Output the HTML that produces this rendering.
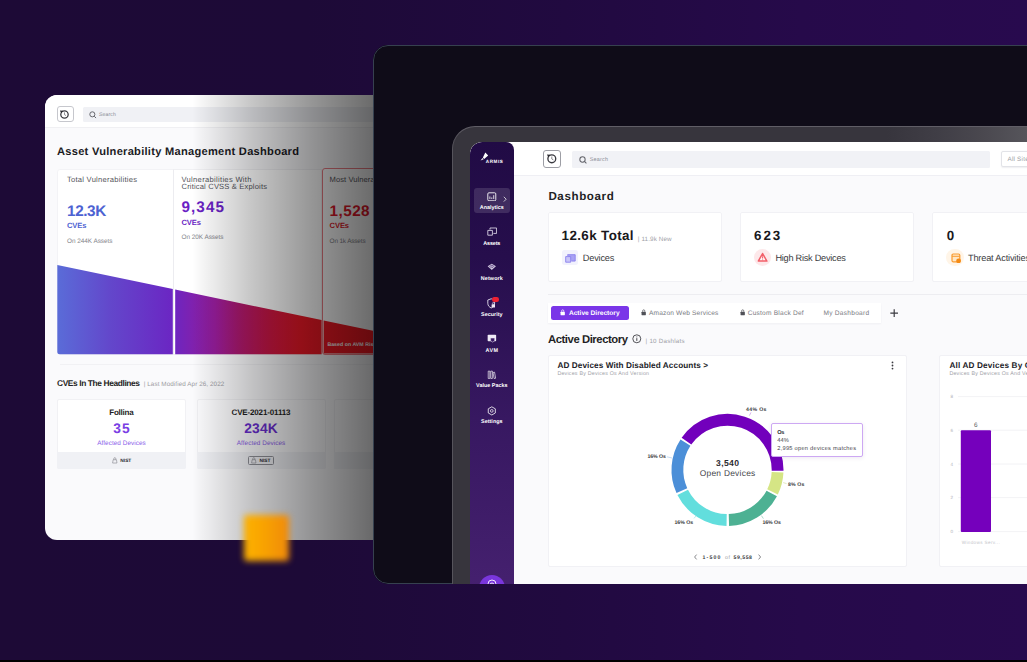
<!DOCTYPE html>
<html lang="en">
<head>
<meta charset="utf-8">
<title>Armis Dashboard</title>
<style>
html,body{margin:0;padding:0;}
html{background:#1d0a36;}
body{width:1027px;height:662px;overflow:hidden;position:relative;font-family:'Liberation Sans',sans-serif;
 background:linear-gradient(90deg,#1d0a36 0%,#1d0a37 30%,#210a40 55%,#260a4a 78%,#280a4e 100%);}
div,svg{position:absolute;box-sizing:border-box;}
.t{white-space:pre;line-height:1;text-rendering:geometricPrecision;}
.pg{left:0;top:0;width:1027px;height:662px;}
</style>
</head>
<body>

<!-- ============ LEFT CARD ============ -->
<div id="lc" style="left:44.7px;top:94.9px;width:380px;height:445.6px;border-radius:12px 0 0 12px;overflow:hidden;background:#fafafc;">
<div class="pg" style="left:-44.7px;top:-94.9px;">
  <!-- header -->
  <div style="left:44px;top:94px;width:400px;height:34.2px;background:#fff;border-bottom:1px solid #f0f0f3;"></div>
  <div style="left:56.5px;top:105.6px;width:17.1px;height:16.8px;border:1px solid #c6c7cd;border-radius:3px;background:#fff;"></div>
  <svg style="left:59.3px;top:108.5px;" width="10.4" height="10.4" viewBox="0 0 18 18"><circle cx="9.5" cy="9.5" r="6.4" fill="none" stroke="#3a3a40" stroke-width="2.2"/><path d="M9.5 5.8v4l2.6 1.6" fill="none" stroke="#6a6a70" stroke-width="1.3"/><path d="M1.5 2.5l5.5 0.5-3 4.5z" fill="#2a2a30"/></svg>
  <div style="left:82.6px;top:106.5px;width:330px;height:15.2px;background:#f0f1f5;border-radius:1.5px;"></div>
  <svg style="left:89.1px;top:110.5px;" width="8" height="8" viewBox="0 0 12 12"><circle cx="5" cy="5" r="3.8" fill="none" stroke="#63646a" stroke-width="1.45"/><path d="M7.8 7.8l2.8 2.8" stroke="#63646a" stroke-width="1.45"/></svg>

  <!-- stat cards -->
  <div style="left:57.3px;top:168.7px;width:116.5px;height:186px;background:#fff;border:1px solid #f3f3f6;border-radius:3px 0 0 3px;"></div>
  <div style="left:173.3px;top:168.7px;width:148.6px;height:186px;background:#fff;border:1px solid #f0f0f3;border-left:1px solid #ececf0;"></div>
  <div style="left:322.4px;top:168.4px;width:110px;height:186.2px;background:#fff;border:1px solid #ee7d85;border-radius:3px;"></div>

  <!-- gradient wedge -->
  <svg style="left:0;top:0;" width="1027" height="662" viewBox="0 0 1027 662">
    <defs>
      <linearGradient id="wg" gradientUnits="userSpaceOnUse" x1="57.3" y1="0" x2="380" y2="0">
        <stop offset="0" stop-color="#5a6cd8"/>
        <stop offset="0.164" stop-color="#6347cb"/>
        <stop offset="0.356" stop-color="#6b26c3"/>
        <stop offset="0.49" stop-color="#951c98"/>
        <stop offset="0.567" stop-color="#ac186c"/>
        <stop offset="0.666" stop-color="#cf1641"/>
        <stop offset="0.753" stop-color="#ec1826"/>
        <stop offset="1" stop-color="#f51820"/>
      </linearGradient>
    </defs>
    <path d="M57.3 265 L172.8 289.06 L172.8 354.3 L59.8 354.3 Q57.3 354.3 57.3 351.8 Z" fill="url(#wg)"/>
    <path d="M175.2 289.56 L321.6 320.05 L321.6 354.3 L175.2 354.3 Z" fill="url(#wg)"/>
    <path d="M323.6 320.47 L420 340.5 L420 353.6 L323.6 353.6 Z" fill="url(#wg)"/>
  </svg>

  <!-- separator -->
  <div style="left:60px;top:364px;width:380px;height:1px;background:#f1f1f4;"></div>

  <!-- headline cards -->
  <div style="left:57.3px;top:398.8px;width:128.5px;height:70.4px;background:#fff;border:1px solid #f1f1f4;border-radius:2px;"></div>
  <div style="left:57.3px;top:451.9px;width:128.5px;height:17.3px;background:#f0f1f5;border-radius:0 0 2px 2px;"></div>
  <div style="left:196.6px;top:398.8px;width:129px;height:70.4px;background:#fbfbfd;border:1px solid #f0f0f3;border-radius:2px;"></div>
  <div style="left:196.6px;top:451.9px;width:129px;height:17.3px;background:#f0f1f5;border-radius:0 0 2px 2px;"></div>
  <div style="left:334px;top:398.8px;width:129px;height:70.4px;background:#fbfbfd;border:1px solid #f0f0f3;border-radius:2px;"></div>
  <div style="left:334px;top:451.9px;width:129px;height:17.3px;background:#f0f1f5;"></div>
  <!-- NIST icons -->
  <svg style="left:112px;top:457.4px;" width="5.6" height="6.6" viewBox="0 0 10 12"><path d="M2 5h6l1 6H1z" fill="none" stroke="#7a7b82" stroke-width="1"/><path d="M3.2 5V3a1.8 1.8 0 0 1 3.6 0v2" fill="none" stroke="#7a7b82" stroke-width="1"/></svg>
  <div style="left:247.6px;top:456.2px;width:26.6px;height:9.2px;border:0.8px solid #8e8f96;border-radius:1.5px;"></div>
  <svg style="left:251.2px;top:457.4px;" width="5.6" height="6.6" viewBox="0 0 10 12"><path d="M2 5h6l1 6H1z" fill="none" stroke="#7a7b82" stroke-width="1"/><path d="M3.2 5V3a1.8 1.8 0 0 1 3.6 0v2" fill="none" stroke="#7a7b82" stroke-width="1"/></svg>

<div class="t" style="left:99.10px;top:113.05px;font-size:5.2px;color:#8a8d96;letter-spacing:0.052px;">Search</div>
<div class="t" style="left:57.00px;top:147.11px;font-size:11.1px;font-weight:700;color:#1b1b1f;letter-spacing:0.272px;">Asset Vulnerability Management Dashboard</div>
<div class="t" style="left:67.00px;top:175.59px;font-size:7.6px;color:#55565c;letter-spacing:0.242px;">Total Vulnerabilities</div>
<div class="t" style="left:67.00px;top:204.07px;font-size:15.3px;font-weight:700;color:#4d62d2;letter-spacing:-0.382px;">12.3K</div>
<div class="t" style="left:67.00px;top:221.69px;font-size:7.6px;font-weight:700;color:#4d62d2;letter-spacing:-0.115px;">CVEs</div>
<div class="t" style="left:67.00px;top:238.95px;font-size:6.4px;color:#85868c;letter-spacing:-0.025px;">On 244K Assets</div>
<div class="t" style="left:181.50px;top:175.88px;font-size:7.6px;color:#55565c;letter-spacing:0.300px;">Vulnerabilities With</div>
<div class="t" style="left:181.50px;top:182.89px;font-size:7.6px;color:#55565c;letter-spacing:0.158px;">Critical CVSS &amp; Exploits</div>
<div class="t" style="left:181.50px;top:199.73px;font-size:15.3px;font-weight:700;color:#6a1fc4;letter-spacing:1.055px;">9,345</div>
<div class="t" style="left:181.50px;top:218.94px;font-size:7.6px;font-weight:700;color:#6a1fc4;letter-spacing:-0.115px;">CVEs</div>
<div class="t" style="left:181.50px;top:235.31px;font-size:6.4px;color:#85868c;letter-spacing:-0.023px;">On 20K Assets</div>
<div class="t" style="left:329.60px;top:175.88px;font-size:7.6px;color:#55565c;letter-spacing:0.044px;">Most Vulnerable Assets</div>
<div class="t" style="left:329.60px;top:203.57px;font-size:15.3px;font-weight:700;color:#e0182a;letter-spacing:0.430px;">1,528</div>
<div class="t" style="left:329.60px;top:221.79px;font-size:7.6px;font-weight:700;color:#e0182a;letter-spacing:-0.115px;">CVEs</div>
<div class="t" style="left:329.60px;top:238.71px;font-size:6.4px;color:#85868c;letter-spacing:-0.151px;">On 1k Assets</div>
<div class="t" style="left:327.40px;top:342.87px;font-size:5.2px;font-weight:700;color:#ffffff;letter-spacing:0.045px;">Based on AVM Risk Score</div>
<div class="t" style="left:57.00px;top:378.90px;font-size:8.4px;font-weight:700;color:#1f1f24;letter-spacing:-0.388px;">CVEs In The Headlines</div>
<div class="t" style="left:143.70px;top:381.65px;font-size:6.3px;color:#9a9ba1;letter-spacing:0.085px;">| Last Modified Apr 26, 2022</div>
<div class="t" style="left:109.25px;top:409.26px;font-size:8px;font-weight:700;color:#1f1f24;letter-spacing:-0.214px;">Follina</div>
<div class="t" style="left:113.25px;top:421.56px;font-size:13.8px;font-weight:700;color:#7a3fe4;letter-spacing:1.141px;">35</div>
<div class="t" style="left:97.25px;top:441.11px;font-size:6.4px;color:#8b62ea;letter-spacing:0.044px;">Affected Devices</div>
<div class="t" style="left:120.30px;top:460.39px;font-size:4.8px;font-weight:700;color:#2a2a30;letter-spacing:0.021px;">NIST</div>
<div class="t" style="left:231.50px;top:409.26px;font-size:8px;font-weight:700;color:#1f1f24;letter-spacing:-0.149px;">CVE-2021-01113</div>
<div class="t" style="left:244.25px;top:421.56px;font-size:13.8px;font-weight:700;color:#6a2fd0;letter-spacing:0.172px;">234K</div>
<div class="t" style="left:236.75px;top:441.10px;font-size:6.4px;color:#8b62ea;letter-spacing:0.044px;">Affected Devices</div>
<div class="t" style="left:259.50px;top:460.36px;font-size:4.8px;font-weight:700;color:#2a2a30;letter-spacing:0.021px;">NIST</div>

  <!-- dark fade overlay -->
  <div style="left:192px;top:90px;width:240px;height:460px;background:linear-gradient(90deg,rgba(0,0,0,0) 0%,rgba(0,0,0,0.225) 25%,rgba(0,0,0,0.415) 50.4%,rgba(0,0,0,0.582) 75.3%,rgba(0,0,0,0.7) 100%);"></div>
</div>
</div>

<!-- orange glow square -->
<div style="left:244.2px;top:514.6px;width:44.6px;height:46px;border-radius:3px;background:linear-gradient(90deg,#fdb200 0%,#f9a400 40%,#f08a0a 100%);filter:blur(3.4px);"></div>

<!-- ============ DARK PANEL ============ -->
<div id="dp" style="left:372.7px;top:44.6px;width:700px;height:539.8px;border-radius:15px 0 0 15px;background:#0f0c18;overflow:hidden;">
<div class="pg" style="left:-372.7px;top:-44.6px;">
  <div style="left:372.7px;top:44.6px;width:720px;height:539.8px;border-radius:15px 0 0 15px;border:1px solid #36414f;"></div>

  <!-- tablet bezel -->
  <div style="left:451.8px;top:126.1px;width:640px;height:520px;border-radius:23px 0 0 0;background:linear-gradient(90deg,#37353d 0%,#37353d 68%,#403e46 76%,#4a484f 83%,#56555b 90%,#5c5b61 100%);border:1px solid #56545c;border-top-color:#605e66;"></div>

  <!-- screen -->
  <div id="scr" style="left:469.5px;top:142.4px;width:600px;height:470px;border-radius:12px 0 0 0;overflow:hidden;background:#fafafc;">
  <div class="pg" style="left:-469.5px;top:-142.4px;">
    <!-- top bar -->
    <div style="left:500px;top:142px;width:560px;height:34.4px;background:#fff;border-bottom:1px solid #efeff4;"></div>
    <!-- sidebar -->
    <div style="left:469.5px;top:142.4px;width:44.8px;height:460px;border-radius:12px 8px 0 0;background:linear-gradient(180deg,#210b45 0%,#260e4c 25%,#371861 60%,#462170 100%);"></div>
    <div style="left:473.7px;top:188px;width:36.1px;height:24.6px;border-radius:3px;background:rgba(255,255,255,0.13);"></div>
    <div style="left:478.8px;top:574.6px;width:26px;height:26px;border-radius:13px;background:#7a36dc;"></div>
    <svg style="left:486px;top:578px;" width="12" height="10" viewBox="0 0 12 10"><path d="M2 6a4 4 0 0 1 8 0M4 7a2 2 0 0 1 4 0" fill="none" stroke="#fff" stroke-width="0.9"/></svg>

    <!-- logo -->
    <svg style="left:479.6px;top:152.2px;" width="9" height="9.4" viewBox="0 0 9 9.4"><path d="M5.3 0.4L8.2 3.4 4.2 6.9 2.9 5.4z M2.5 5.9L3.7 7.3 0.6 8.5z" fill="#fff"/></svg>

    <!-- sidebar icons -->
    <svg style="left:487px;top:191.6px;" width="9.6" height="9.6" viewBox="0 0 12 12"><rect x="1" y="1" width="10" height="10" rx="1.4" fill="none" stroke="#fff" stroke-width="1.1"/><path d="M3.6 8.8V5.6M6 8.8V6.8M8.4 8.8V4" stroke="#fff" stroke-width="1"/></svg>
    <svg style="left:502.6px;top:195.6px;" width="4" height="6.4" viewBox="0 0 5 8"><path d="M1 1l3 3-3 3" fill="none" stroke="#fff" stroke-width="0.9"/></svg>
    <svg style="left:486.6px;top:227.4px;" width="10.4" height="9.4" viewBox="0 0 10.4 9.4"><path d="M3 2.6V1h6.6v5.4H6.4" fill="none" stroke="#efeaf6" stroke-width="0.8"/><path d="M0.8 3.4h4.6v4.8H0.8z" fill="none" stroke="#efeaf6" stroke-width="0.8"/></svg>
    <svg style="left:487px;top:263.4px;" width="9.6" height="7.6" viewBox="0 0 12 9.5"><path d="M6 0.8L11.2 4 6 8.8 0.8 4z" fill="#cfc6de"/><path d="M3 4.4a4.2 4.2 0 0 1 6 0M4.4 5.8a2.3 2.3 0 0 1 3.2 0" fill="none" stroke="#371861" stroke-width="0.8"/></svg>
    <svg style="left:486.6px;top:298.4px;" width="9" height="11" viewBox="0 0 9 11"><path d="M4.2 0.8L7.6 2v3.2c0 2.6-1.6 3.9-3.4 4.8C2.4 9.1 0.8 7.8 0.8 5.2V2z" fill="none" stroke="#efeaf6" stroke-width="0.85"/><rect x="4.6" y="6.2" width="3.4" height="3.2" rx="0.5" fill="#efeaf6"/><path d="M5.4 6.2v-.8a.9.9 0 0 1 1.8 0v.8" fill="none" stroke="#efeaf6" stroke-width="0.6"/></svg>
    <div style="left:492.3px;top:297.2px;width:7px;height:4.5px;border-radius:2.2px;background:#ee2233;"></div>
    <svg style="left:487px;top:334px;" width="9.8" height="9" viewBox="0 0 12 11"><rect x="0.8" y="0.8" width="10.4" height="8" rx="1" fill="#efeaf6"/><path d="M4.4 5h5v3.2L7 10 4.4 8.2z" fill="#3a1965" stroke="#efeaf6" stroke-width="0.6"/></svg>
    <svg style="left:487.4px;top:370.2px;" width="9" height="9.6" viewBox="0 0 11 12"><path d="M1.4 1.4h2v9.2h-2zM4.6 1.4h2v9.2h-2zM7.4 3.2l1.9-.5 1.4 7.6-1.9.4z" fill="none" stroke="#fff" stroke-width="0.8"/></svg>
    <svg style="left:487px;top:406px;" width="9.6" height="9.8" viewBox="0 0 12 12"><path d="M6 0.9l4.4 2.5v5.2L6 11.1 1.6 8.6V3.4z" fill="none" stroke="#fff" stroke-width="1"/><circle cx="6" cy="6" r="1.7" fill="none" stroke="#fff" stroke-width="0.9"/></svg>

    <!-- history button + search -->
    <div style="left:543.2px;top:150.3px;width:17.5px;height:17.3px;border:1px solid #9d9ea5;border-radius:3px;background:#fff;"></div>
    <svg style="left:546.1px;top:153.1px;" width="11" height="11" viewBox="0 0 18 18"><circle cx="9.5" cy="9.5" r="6.4" fill="none" stroke="#3a3a40" stroke-width="2.2"/><path d="M9.5 5.8v4l2.6 1.6" fill="none" stroke="#6a6a70" stroke-width="1.3"/><path d="M1.5 2.5l5.5 0.5-3 4.5z" fill="#2a2a30"/></svg>
    <div style="left:571.6px;top:150.7px;width:418.2px;height:17.3px;background:#f1f2f6;border-radius:1.5px;"></div>
    <svg style="left:578.6px;top:155.5px;" width="8.4" height="8.4" viewBox="0 0 12 12"><circle cx="5" cy="5" r="3.8" fill="none" stroke="#63646a" stroke-width="1.45"/><path d="M7.8 7.8l2.8 2.8" stroke="#63646a" stroke-width="1.45"/></svg>
    <div style="left:1001px;top:151.4px;width:40px;height:15.8px;border:1px solid #e2e3e8;border-radius:2px;background:#fff;box-shadow:0 0.5px 1.5px rgba(40,40,80,0.08);"></div>

    <!-- KPI cards -->
    <div style="left:547.9px;top:212.3px;width:173.8px;height:70.2px;background:#fff;border:1px solid #f1f1f5;border-radius:2px;"></div>
    <div style="left:740.4px;top:212.3px;width:173.4px;height:70.2px;background:#fff;border:1px solid #f1f1f5;border-radius:2px;"></div>
    <div style="left:931.8px;top:212.3px;width:173.4px;height:70.2px;background:#fff;border:1px solid #f1f1f5;border-radius:2px;"></div>
    <div style="left:562.4px;top:250.1px;width:15.8px;height:15.4px;border-radius:2.5px;background:#f2f2fd;"></div>
    <svg style="left:565.2px;top:253.6px;" width="11" height="9" viewBox="0 0 11 9"><path d="M2.6 1.6V0.7h7.6v6.4H6.4" fill="#a9a2f4" stroke="#8a80ee" stroke-width="0.9"/><path d="M0.7 2.6h5v5.6h-5z" fill="#c9c5f8" stroke="#8a80ee" stroke-width="0.9"/></svg>
    <div style="left:753.9px;top:248.6px;width:17.6px;height:17.6px;border-radius:8.8px;background:#fde8ea;"></div>
    <svg style="left:757.4px;top:252.2px;" width="11.2" height="10.4" viewBox="0 0 11.2 10.4"><path d="M5.6 1.5l4.3 7.6H1.3z" fill="#fff6f6" stroke="#f25f69" stroke-width="1.5" stroke-linejoin="round"/><path d="M5.6 4.2v2.4M5.6 7.4v.8" stroke="#f25f69" stroke-width="1.1"/></svg>
    <div style="left:946.4px;top:249.2px;width:17.2px;height:17.2px;border-radius:8.6px;background:#fff5e8;"></div>
    <svg style="left:950.6px;top:252.6px;" width="10.4" height="10.4" viewBox="0 0 10.4 10.4"><rect x="1" y="1" width="7.8" height="7.8" rx="1.2" fill="#ffe6c4" stroke="#f99b30" stroke-width="1.2"/><path d="M1 3.3h7.8" stroke="#f99b30" stroke-width="1"/><circle cx="7.6" cy="7.8" r="2.4" fill="#f68a12"/></svg>

    <!-- separator + tabs -->
    <div style="left:547.9px;top:294.2px;width:500px;height:1px;background:#ededf1;"></div>
    <div style="left:547.9px;top:303.4px;width:333.4px;height:20px;background:#fff;box-shadow:0 1px 2px rgba(40,40,80,0.05);"></div>
    <div style="left:550.7px;top:305.6px;width:78.5px;height:14.3px;border-radius:2.5px;background:#7a36e8;"></div>
    <svg style="left:560.4px;top:309.2px;" width="5.4" height="6.6" viewBox="0 0 10 12"><rect x="1" y="5" width="8" height="6.4" rx="0.8" fill="#fff"/><path d="M3 5V3.4a2 2 0 0 1 4 0V5" fill="none" stroke="#fff" stroke-width="1.3"/></svg>
    <svg style="left:640.8px;top:309.2px;" width="5.4" height="6.6" viewBox="0 0 10 12"><rect x="1" y="5" width="8" height="6.4" rx="0.8" fill="#505157"/><path d="M3 5V3.4a2 2 0 0 1 4 0V5" fill="none" stroke="#505157" stroke-width="1.3"/></svg>
    <svg style="left:739.6px;top:309.2px;" width="5.4" height="6.6" viewBox="0 0 10 12"><rect x="1" y="5" width="8" height="6.4" rx="0.8" fill="#505157"/><path d="M3 5V3.4a2 2 0 0 1 4 0V5" fill="none" stroke="#505157" stroke-width="1.3"/></svg>
    <svg style="left:889.8px;top:308.5px;" width="8.4" height="8.4" viewBox="0 0 10 10"><path d="M5 0.4v9.2M0.4 5h9.2" stroke="#3a3a40" stroke-width="1.4"/></svg>

    <!-- info icon -->
    <svg style="left:632.2px;top:334.4px;" width="9.6" height="9.6" viewBox="0 0 12 12"><circle cx="6" cy="6" r="5" fill="none" stroke="#2a2a30" stroke-width="1"/><path d="M6 5.2v3.4M6 3.2v1" stroke="#2a2a30" stroke-width="1.1"/></svg>

    <!-- chart cards -->
    <div style="left:547.5px;top:354.8px;width:359.2px;height:212.2px;background:#fff;border:1px solid #f1f1f5;border-radius:2px;"></div>
    <div style="left:939.2px;top:354.6px;width:160px;height:212.3px;background:#fff;border:1px solid #f1f1f5;border-radius:2px;"></div>
    <svg style="left:890.6px;top:361.4px;" width="3" height="9" viewBox="0 0 3 9"><circle cx="1.5" cy="1.4" r="0.9" fill="#3a3a40"/><circle cx="1.5" cy="4.5" r="0.9" fill="#3a3a40"/><circle cx="1.5" cy="7.6" r="0.9" fill="#3a3a40"/></svg>

    <!-- donut -->
    <svg style="left:0;top:0;" width="1027" height="662" viewBox="0 0 1027 662">
      <g fill="none" stroke-width="11.8" transform="translate(727.5 469.9)">
        <path d="M-41.04 -28.74A50.1 50.1 0 0 1 50.09 0.87" stroke="#7200bc"/>
<path d="M50.05 2.27A50.1 50.1 0 0 1 45.03 21.96" stroke="#d5e585"/>
<path d="M44.24 23.52A50.1 50.1 0 0 1 1.40 50.08" stroke="#4db193"/>
<path d="M-0.87 50.09A50.1 50.1 0 0 1 -44.80 22.43" stroke="#62dedd"/>
<path d="M-45.63 20.70A50.1 50.1 0 0 1 -42.02 -27.29" stroke="#4c8fd8"/>
      </g>
      <g stroke-width="0.5" fill="none">
        <path d="M751 412.4l-1.6 3.2" stroke="#b06ad8"/>
        <path d="M667 456.8l5 1.2" stroke="#8ab4e4"/>
        <path d="M786.6 483.6l-3.4-1" stroke="#c4d47a"/>
        <path d="M694 518.4l2.4-3" stroke="#7ad8d8"/>
        <path d="M763.4 518.6l-2-3" stroke="#5ab49a"/>
      </g>
      <!-- bar chart -->
      <g stroke="#efeff3" stroke-width="0.8">
        <path d="M958 396.6H1027M958 430.2H1027M958 464H1027M958 497.6H1027M958 531.6H1027"/>
      </g>
      <rect x="960.8" y="430.2" width="30.2" height="101.8" rx="1" fill="#7500bc"/>
      <!-- pagination chevrons -->
      <path d="M696.6 554.6l-2 2.4 2 2.4M758.6 554.6l2 2.4-2 2.4" fill="none" stroke="#55565c" stroke-width="0.7"/>
    </svg>
    <!-- tooltip -->
    <div style="left:771.4px;top:422.6px;width:91.4px;height:34.6px;background:#fff;border:1.2px solid #cda8f3;border-radius:2px;box-shadow:0 1px 4px rgba(80,40,120,0.10);"></div>

<div class="t" style="left:485.80px;top:159.90px;font-size:4.6px;font-weight:700;color:#ffffff;letter-spacing:0.547px;">ARMIS</div>
<div class="t" style="left:479.80px;top:205.77px;font-size:5.4px;font-weight:700;color:#ffffff;letter-spacing:0.004px;">Analytics</div>
<div class="t" style="left:483.30px;top:242.27px;font-size:5.4px;font-weight:700;color:#ffffff;letter-spacing:-0.138px;">Assets</div>
<div class="t" style="left:480.80px;top:277.27px;font-size:5.4px;font-weight:700;color:#ffffff;letter-spacing:0.120px;">Network</div>
<div class="t" style="left:481.05px;top:312.77px;font-size:5.4px;font-weight:700;color:#ffffff;letter-spacing:0.031px;">Security</div>
<div class="t" style="left:485.55px;top:348.86px;font-size:5.4px;font-weight:700;color:#ffffff;letter-spacing:0.461px;">AVM</div>
<div class="t" style="left:476.05px;top:383.87px;font-size:5.4px;font-weight:700;color:#ffffff;letter-spacing:0.033px;">Value Packs</div>
<div class="t" style="left:481.05px;top:420.07px;font-size:5.4px;font-weight:700;color:#ffffff;letter-spacing:0.033px;">Settings</div>
<div class="t" style="left:589.70px;top:157.67px;font-size:5.4px;color:#8a8d96;letter-spacing:0.241px;">Search</div>
<div class="t" style="left:1007.50px;top:157.23px;font-size:6.3px;color:#9c9da4;letter-spacing:0.219px;">All Sites</div>
<div class="t" style="left:548.40px;top:191.13px;font-size:11.6px;font-weight:700;color:#1f1f24;letter-spacing:0.605px;">Dashboard</div>
<div class="t" style="left:561.60px;top:228.85px;font-size:13.4px;font-weight:700;color:#19191d;letter-spacing:0.377px;">12.6k Total</div>
<div class="t" style="left:637.80px;top:237.03px;font-size:6.3px;color:#a0a1a7;letter-spacing:0.113px;">| 11.9k New</div>
<div class="t" style="left:582.80px;top:253.51px;font-size:9.2px;color:#3a3a40;letter-spacing:-0.198px;">Devices</div>
<div class="t" style="left:754.00px;top:228.85px;font-size:13.4px;font-weight:700;color:#19191d;letter-spacing:1.978px;">623</div>
<div class="t" style="left:775.40px;top:253.51px;font-size:9.2px;color:#3a3a40;letter-spacing:-0.253px;">High Risk Devices</div>
<div class="t" style="left:946.80px;top:228.65px;font-size:13.4px;font-weight:700;color:#19191d;letter-spacing:0.000px;">0</div>
<div class="t" style="left:968.00px;top:253.51px;font-size:9.2px;color:#3a3a40;letter-spacing:-0.179px;">Threat Activities</div>
<div class="t" style="left:568.90px;top:311.01px;font-size:6.6px;font-weight:700;color:#ffffff;letter-spacing:0.008px;">Active Directory</div>
<div class="t" style="left:649.00px;top:311.02px;font-size:6.6px;color:#7a7b82;letter-spacing:0.157px;">Amazon Web Services</div>
<div class="t" style="left:747.70px;top:311.00px;font-size:6.6px;color:#7a7b82;letter-spacing:0.215px;">Custom Black Def</div>
<div class="t" style="left:823.40px;top:311.00px;font-size:6.6px;color:#7a7b82;letter-spacing:0.264px;">My Dashboard</div>
<div class="t" style="left:548.00px;top:334.76px;font-size:11.3px;font-weight:700;color:#1f1f24;letter-spacing:-0.444px;">Active Directory</div>
<div class="t" style="left:645.60px;top:338.87px;font-size:6.2px;color:#a0a1a7;letter-spacing:0.249px;">| 10 Dashlats</div>
<div class="t" style="left:557.40px;top:361.69px;font-size:8.2px;font-weight:700;color:#222227;letter-spacing:0.085px;">AD Devices With Disabled Accounts &gt;</div>
<div class="t" style="left:557.40px;top:372.30px;font-size:5.3px;color:#a0a1a7;letter-spacing:0.213px;">Devices By Devices Os And Version</div>
<div class="t" style="left:949.40px;top:361.69px;font-size:8.2px;font-weight:700;color:#222227;letter-spacing:0.161px;">All AD Devices By Os</div>
<div class="t" style="left:949.40px;top:372.10px;font-size:5.3px;color:#a0a1a7;letter-spacing:0.213px;">Devices By Devices Os And Version</div>
<div class="t" style="left:716.00px;top:459.30px;font-size:8.6px;font-weight:700;color:#2a2a30;letter-spacing:0.371px;">3,540</div>
<div class="t" style="left:699.75px;top:468.90px;font-size:8.4px;color:#44454b;letter-spacing:0.263px;">Open Devices</div>
<div class="t" style="left:746.00px;top:407.87px;font-size:5.2px;font-weight:700;color:#3a3a40;letter-spacing:0.330px;">44% Os</div>
<div class="t" style="left:647.40px;top:454.87px;font-size:5.2px;font-weight:700;color:#3a3a40;letter-spacing:-0.030px;">16% Os</div>
<div class="t" style="left:788.00px;top:483.07px;font-size:5.2px;font-weight:700;color:#3a3a40;letter-spacing:0.135px;">8% Os</div>
<div class="t" style="left:674.50px;top:520.67px;font-size:5.2px;font-weight:700;color:#3a3a40;letter-spacing:-0.030px;">16% Os</div>
<div class="t" style="left:762.40px;top:520.67px;font-size:5.2px;font-weight:700;color:#3a3a40;letter-spacing:-0.030px;">16% Os</div>
<div class="t" style="left:777.30px;top:431.16px;font-size:5.6px;font-weight:700;color:#2a2a30;letter-spacing:-0.469px;">Os</div>
<div class="t" style="left:777.30px;top:439.22px;font-size:5.7px;color:#44454b;letter-spacing:0.055px;">44%</div>
<div class="t" style="left:777.30px;top:447.14px;font-size:5.7px;color:#44454b;letter-spacing:0.252px;">2,995 open devices matches</div>
<div class="t" style="left:702.50px;top:556.27px;font-size:5.2px;font-weight:700;color:#3a3a40;letter-spacing:1.180px;">1-500</div>
<div class="t" style="left:725.00px;top:556.25px;font-size:5.2px;color:#9a9ba1;letter-spacing:0.672px;">of</div>
<div class="t" style="left:733.50px;top:556.27px;font-size:5.2px;font-weight:700;color:#3a3a40;letter-spacing:0.525px;">59,558</div>
<div class="t" style="left:950.60px;top:395.21px;font-size:4.6px;color:#b4b5ba;letter-spacing:0.000px;">8</div>
<div class="t" style="left:950.60px;top:429.24px;font-size:4.6px;color:#b4b5ba;letter-spacing:0.000px;">6</div>
<div class="t" style="left:950.60px;top:462.85px;font-size:4.6px;color:#b4b5ba;letter-spacing:0.000px;">4</div>
<div class="t" style="left:950.60px;top:496.24px;font-size:4.6px;color:#b4b5ba;letter-spacing:0.000px;">2</div>
<div class="t" style="left:950.60px;top:529.85px;font-size:4.6px;color:#b4b5ba;letter-spacing:0.000px;">0</div>
<div class="t" style="left:974.00px;top:422.51px;font-size:6.4px;color:#55565c;letter-spacing:0.000px;">6</div>
<div class="t" style="left:961.70px;top:541.04px;font-size:4.6px;color:#c4c5ca;letter-spacing:0.367px;">Windows Serv...</div>
  </div>
  </div>
</div>
</div>

<!-- bottom black strip -->
<div style="left:0;top:660px;width:1027px;height:2px;background:#000;"></div>

</body>
</html>
